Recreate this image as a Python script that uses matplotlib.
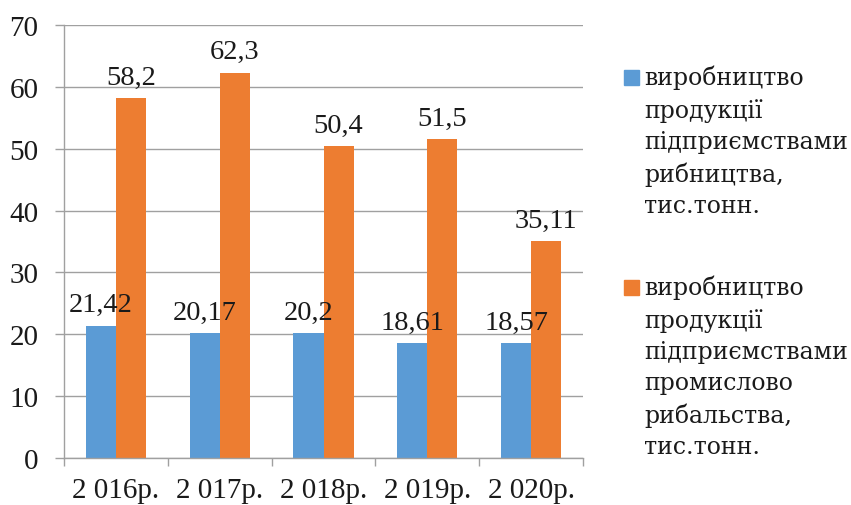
import matplotlib
matplotlib.use("Agg")
import matplotlib.pyplot as plt
import numpy as np
from matplotlib.patches import Rectangle

categories = ["2 016р.", "2 017р.", "2 018р.", "2 019р.", "2 020р."]
fish_farming = [21.42, 20.17, 20.2, 18.61, 18.57]
fishing = [58.2, 62.3, 50.4, 51.5, 35.11]
series_names = [
    "виробництво\nпродукції\nпідприємствами\nрибництва,\nтис.тонн.",
    "виробництво\nпродукції\nпідприємствами\nпромислово\nрибальства,\nтис.тонн.",
]
colors = ["#5B9BD5", "#ED7D31"]
yticks = [0, 10, 20, 30, 40, 50, 60, 70]

def fmt(v):
    s = ("%.2f" % v).rstrip("0").rstrip(".")
    return s.replace(".", ",")

fig = plt.figure(figsize=(8.51, 5.06), dpi=100)
ax = fig.add_axes([64/851, 47/506, (583-64)/851, (459-26)/506])

x = np.arange(len(categories))
w = 0.29
serif = "Liberation Serif"
for vals, off, c in [(fish_farming, -w/2, colors[0]), (fishing, w/2, colors[1])]:
    ax.bar(x + off, vals, width=w, color=c, zorder=2)
    for xi, v in zip(x + off, vals):
        ax.annotate(fmt(v), (xi, v), xytext=(0, 6), textcoords="offset points",
                    ha="center", va="bottom", fontsize=20.5, family=serif,
                    color="#1a1a1a", zorder=4)

ax.set_xlim(-0.5, len(categories) - 0.5)
ax.set_ylim(0, 70)
ax.set_yticks(yticks)
ax.set_yticklabels([str(t) for t in yticks], fontsize=21, family=serif, color="#1a1a1a")
ax.set_xticks(x)
ax.set_xticklabels(categories, fontsize=21, family=serif, color="#1a1a1a")
ax.set_xticks(np.arange(-0.5, len(categories)), minor=True)
ax.tick_params(axis="x", which="major", length=0, pad=14)
ax.tick_params(axis="x", which="minor", length=6, color="#A0A0A0", width=1)
ax.tick_params(axis="y", length=6.5, color="#A0A0A0", width=1, pad=12)
ax.grid(axis="y", color="#A0A0A0", linewidth=1, zorder=0)
ax.set_axisbelow(True)
for s in ["top", "right"]:
    ax.spines[s].set_visible(False)
for s in ["left", "bottom"]:
    ax.spines[s].set_color("#A0A0A0")
    ax.spines[s].set_linewidth(1)

# legend
leg_tops = [78, 288]
for name, c, ty in zip(series_names, colors, leg_tops):
    fig.patches.append(Rectangle((624/851, 1 - (ty + 8)/506), 15/851, 15/506,
                                 transform=fig.transFigure, color=c))
    fig.text(644/851, 1 - (ty - 12)/506, name, ha="left", va="top",
             fontsize=17, family="DejaVu Serif", color="#1a1a1a", linespacing=1.45)

fig.savefig("out.png", dpi=100)
